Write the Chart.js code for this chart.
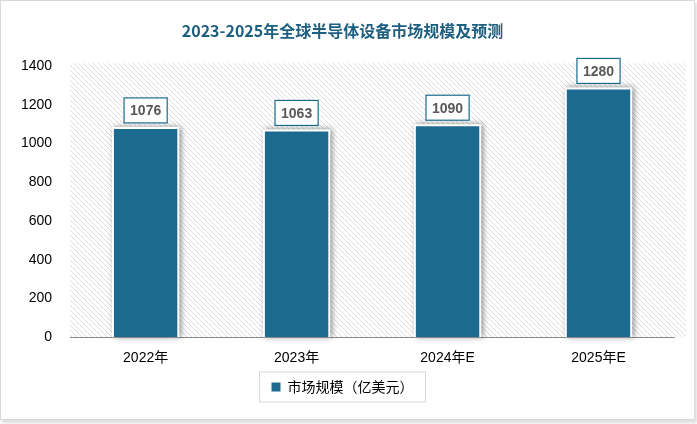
<!DOCTYPE html>
<html><head><meta charset="utf-8">
<script src="https://cdn.jsdelivr.net/npm/chart.js@4/dist/chart.umd.min.js"></script>
<style>
body{margin:0;background:#fff;}
#wrap{position:absolute;left:0;top:0;width:693px;height:418px;border:1px solid #d9d9d9;box-shadow:2px 3px 3px #ddd;}
</style></head>
<body>
<div id="wrap"><canvas id="myChart" width="693" height="418"></canvas></div>
<script>
const categories = ['2022年', '2023年', '2024年E', '2025年E']
const marketSize = [1076, 1063, 1090, 1280]
const yTicks = [0, 200, 400, 600, 800, 1000, 1200, 1400]

const FONT = "'Liberation Sans', 'Noto Sans CJK SC', sans-serif"
const TFONT = "'Noto Sans CJK SC', sans-serif"

// diagonal hatch for plot background
const pc = document.createElement('canvas')
pc.width = 5; pc.height = 5
const px = pc.getContext('2d')
px.fillStyle = '#fff'; px.fillRect(0, 0, 5, 5)
px.strokeStyle = '#dedede'; px.lineWidth = 1
px.beginPath(); px.moveTo(0, 0); px.lineTo(5, 5); px.moveTo(-3, 2); px.lineTo(3, 8); px.moveTo(2, -3); px.lineTo(8, 3); px.stroke()

const ctx = document.querySelector('#myChart').getContext('2d')
const hatch = ctx.createPattern(pc, 'repeat')

const areaBg = {
  id: 'areaBg',
  beforeDraw: (chart) => {
    const {ctx, chartArea: a} = chart
    ctx.save()
    ctx.fillStyle = hatch
    ctx.fillRect(a.left, a.top - 3, a.right - a.left + 12, a.bottom - a.top + 3)
    ctx.restore()
  },
  beforeDatasetsDraw: (chart) => {
    const {ctx} = chart
    chart.getDatasetMeta(0).data.forEach(b => {
      ctx.save()
      ctx.shadowColor = 'rgba(0,0,0,0.45)'
      ctx.shadowBlur = 6
      ctx.shadowOffsetX = 2
      ctx.fillStyle = '#fff'
      ctx.fillRect(b.x - b.width / 2 - 2, b.y - 2, b.width + 4, b.base - b.y + 2)
      ctx.restore()
    })
  },
  afterDatasetsDraw: (chart) => {
    const {ctx} = chart
    chart.getDatasetMeta(0).data.forEach((b, i) => {
      const txt = String(marketSize[i])
      ctx.save()
      ctx.font = 'bold 14px ' + FONT
      const w = ctx.measureText(txt).width + 12, h = 25
      const x = b.x - w / 2, y = b.y - 31
      ctx.fillStyle = '#fff'
      ctx.fillRect(x, y, w, h)
      ctx.strokeStyle = '#1c6b8e'; ctx.lineWidth = 1.2
      ctx.strokeRect(x, y, w, h)
      ctx.fillStyle = '#595959'
      ctx.textAlign = 'center'; ctx.textBaseline = 'middle'
      ctx.fillText(txt, b.x, y + h / 2 + 1)
      ctx.restore()
    })
  },
  afterDraw: (chart) => {
    const {ctx} = chart
    const hb = chart.legend.legendHitBoxes[0]
    ctx.save()
    ctx.strokeStyle = '#d9d9d9'; ctx.lineWidth = 1
    ctx.strokeRect(hb.left - 12, hb.top - 8, hb.width + 24, hb.height + 16)
    ctx.restore()
  }
}

const myChart = new Chart(ctx, {
  type: 'bar',
  data: {
    labels: categories,
    datasets: [{
      label: '市场规模（亿美元）',
      data: marketSize,
      backgroundColor: '#1c6b8e',
      barPercentage: 0.42,
      categoryPercentage: 1
    }]
  },
  plugins: [areaBg],
  options: {
    responsive: false,
    animation: false,
    layout: {padding: {left: 10, right: 20, top: 0, bottom: 15}},
    scales: {
      x: {
        grid: {display: false},
        border: {color: '#8c8c8c'},
        ticks: {color: '#000', font: {size: 14, family: FONT}, padding: 5}
      },
      y: {
        min: 0, max: 1400,
        afterBuildTicks: (s) => { s.ticks = yTicks.map(v => ({value: v})) },
        grid: {display: false},
        border: {display: false},
        ticks: {color: '#000', font: {size: 14, family: FONT}, padding: 10, callback: v => String(v)}
      }
    },
    plugins: {
      title: {
        display: true,
        text: '2023-2025年全球半导体设备市场规模及预测',
        color: '#1c5f80',
        font: {size: 16, weight: 'bold', family: TFONT},
        padding: {top: 20, bottom: 26}
      },
      legend: {
        position: 'bottom',
        labels: {
          color: '#000', font: {size: 14, family: TFONT},
          boxWidth: 9, boxHeight: 9, padding: 8
        }
      },
      tooltip: {enabled: false}
    }
  }
})
</script>
</body></html>
